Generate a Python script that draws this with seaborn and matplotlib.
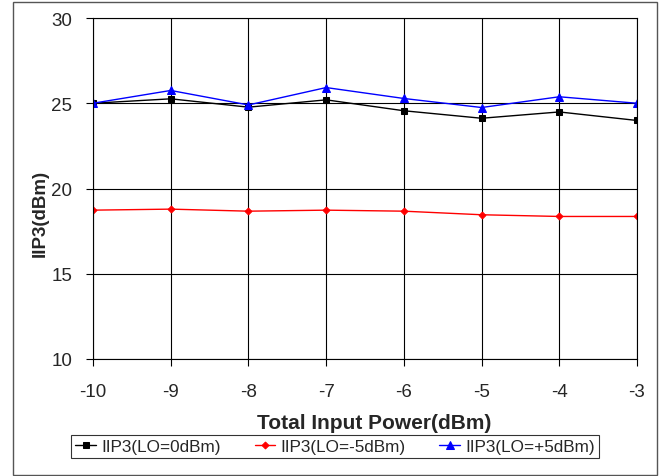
import pandas as pd
import matplotlib.pyplot as plt
import seaborn as sns
from matplotlib.patches import Rectangle

sns.set_theme(style="white")
plt.rcParams['font.family'] = ['Liberation Sans', 'DejaVu Sans']
plt.rcParams['axes.unicode_minus'] = False

# values
power = [-10, -9, -8, -7, -6, -5, -4, -3]
lo_0 = [25.0, 25.26, 24.77, 25.2, 24.56, 24.12, 24.49, 23.99]
lo_m5 = [18.73, 18.79, 18.67, 18.73, 18.67, 18.46, 18.36, 18.36]
lo_p5 = [25.0, 25.75, 24.9, 25.92, 25.28, 24.75, 25.38, 25.0]

series = [
    ('IIP3(LO=0dBm)', lo_0, 'black', 's', 5),
    ('IIP3(LO=-5dBm)', lo_m5, 'red', 'D', 3.5),
    ('IIP3(LO=+5dBm)', lo_p5, 'blue', '^', 5.5),
]

fig = plt.figure(figsize=(6.6, 4.77), dpi=100)
ax = fig.add_axes([93 / 660, 1 - 360 / 477, (637 - 93) / 660, (360 - 19) / 477])

for name, vals, col, mk, ms in series:
    df = pd.DataFrame({'x': power, 'y': vals})
    sns.lineplot(data=df, x='x', y='y', ax=ax, color=col, marker=mk, markersize=ms,
                 markeredgecolor=col, linewidth=1.0, label=name)

ax.set_xlim(-10, -3)
ax.set_ylim(10, 30)
ax.set_xticks(power)
ax.set_yticks([10, 15, 20, 25, 30])
ax.grid(True, color='black', linewidth=0.8)
for s in ax.spines.values():
    s.set_color('black')
    s.set_linewidth(0.8)
ax.tick_params(axis='both', direction='out', length=5, width=0.8, color='black',
               labelsize=13.5, bottom=True, left=True)
ax.tick_params(axis='x', pad=12)
ax.tick_params(axis='y', pad=10)
ax.set_xlabel('Total Input Power(dBm)', fontsize=15, fontweight='bold')
ax.set_ylabel('IIP3(dBm)', fontsize=13.5, fontweight='bold')
# Excel-style label placement
ax.xaxis.set_label_coords(0.517, -0.158)
ax.yaxis.set_label_coords(-0.082, 0.43)

leg = ax.legend(loc='lower center', bbox_to_anchor=(335 / 660, 9 / 477), bbox_transform=fig.transFigure,
                ncol=3, frameon=True, fancybox=False, fontsize=12.3, handlelength=1.2,
                handletextpad=0.3, columnspacing=2.0, borderpad=0.25)
leg.get_frame().set_edgecolor('black')
leg.get_frame().set_linewidth(0.8)

# outer chart border
fig.patches.append(Rectangle((13 / 660, 1 / 477), 644 / 660, 473 / 477, transform=fig.transFigure,
                             fill=False, edgecolor='#555555', linewidth=1.0))

plt.savefig('out.png', dpi=100)
plt.close()
